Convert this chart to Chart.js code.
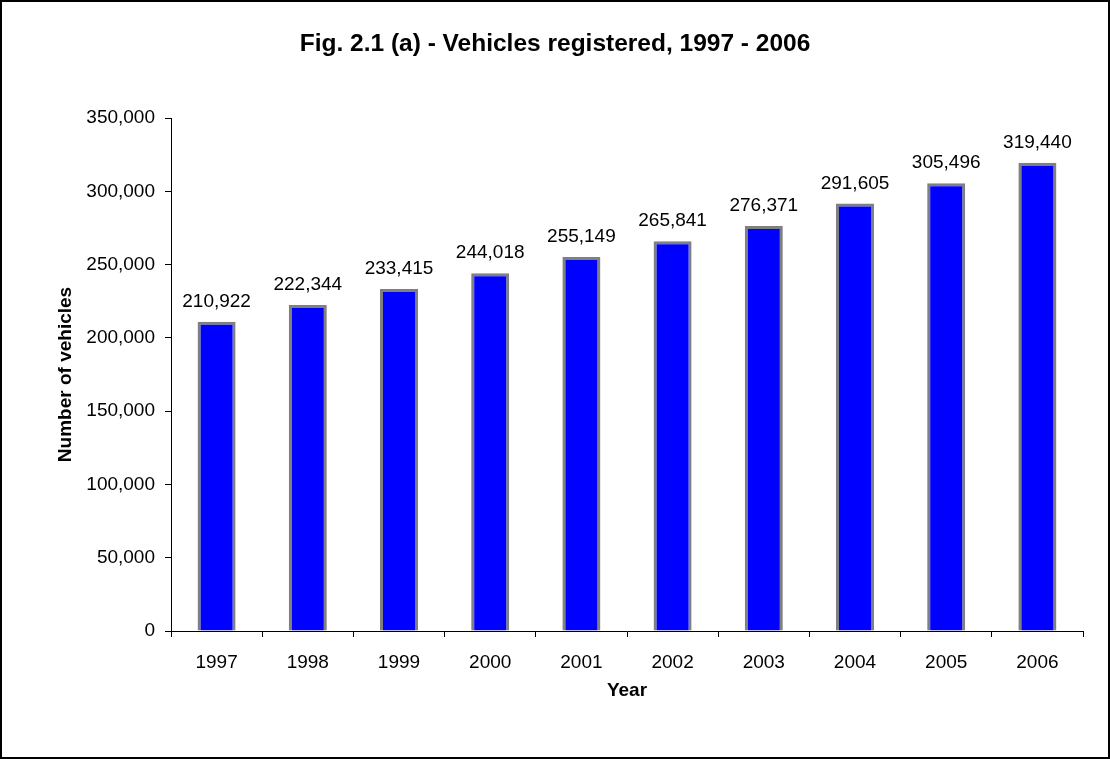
<!DOCTYPE html>
<html>
<head>
<meta charset="utf-8">
<title>Vehicles registered, 1997 - 2006</title>
<script src="https://cdn.jsdelivr.net/npm/chart.js@4.4.1/dist/chart.umd.min.js"></script>
<style>
    html, body { margin: 0; padding: 0; background: #fff; }
    #wrap { width: 1110px; height: 759px; position: relative; }
</style>
</head>
<body>
<div id="wrap"><canvas id="grafico"></canvas></div>
<script>
// Dados do gráfico
const anos = ['1997', '1998', '1999', '2000', '2001', '2002', '2003', '2004', '2005', '2006'];
const veiculos = [210922, 222344, 233415, 244018, 255149, 265841, 276371, 291605, 305496, 319440];
const yTicks = [0, 50000, 100000, 150000, 200000, 250000, 300000, 350000];

const fonte = '"Liberation Sans", Arial, sans-serif';

// Moldura preta e fundo branco
const moldura = {
    id: 'moldura',
    beforeDraw(chart) {
        const ctx = chart.ctx;
        ctx.save();
        ctx.fillStyle = '#fff';
        ctx.fillRect(0, 0, chart.width, chart.height);
        ctx.restore();
    },
    afterDraw(chart) {
        const ctx = chart.ctx;
        ctx.save();
        ctx.strokeStyle = '#000';
        ctx.lineWidth = 2;
        ctx.strokeRect(1, 1, chart.width - 2, chart.height - 2);
        ctx.restore();
    }
};

// Rótulos em cima das barras
const rotulos = {
    id: 'rotulos',
    afterDatasetsDraw(chart) {
        const ctx = chart.ctx;
        const meta = chart.getDatasetMeta(0);
        ctx.save();
        ctx.font = '19px ' + fonte;
        ctx.fillStyle = '#000';
        ctx.textAlign = 'center';
        ctx.textBaseline = 'alphabetic';
        meta.data.forEach((bar, i) => {
            ctx.fillText(veiculos[i].toLocaleString('en-US'), bar.x, bar.y - 15);
        });
        ctx.restore();
    }
};

const ctx = document.getElementById('grafico').getContext('2d');
new Chart(ctx, {
    type: 'bar',
    data: {
        labels: anos,
        datasets: [{
            label: 'Vehicles',
            data: veiculos,
            backgroundColor: '#0000FF',
            borderColor: '#808080',
            borderWidth: 3,
            barPercentage: 0.417,
            categoryPercentage: 1
        }]
    },
    options: {
        responsive: true,
        maintainAspectRatio: false,
        animation: false,
        layout: {
            padding: { left: 27, right: 27, top: 0, bottom: 0 }
        },
        plugins: {
            legend: { display: false },
            tooltip: { enabled: false },
            title: {
                display: true,
                text: 'Fig. 2.1 (a) - Vehicles registered, 1997 - 2006',
                color: '#000',
                font: { family: fonte, size: 24.5, weight: 'bold' },
                padding: { top: 30, bottom: 58.6 }
            }
        },
        scales: {
            x: {
                afterFit(scale) { scale.height = 128; },
                grid: {
                    display: true,
                    drawOnChartArea: false,
                    drawTicks: true,
                    tickLength: 6,
                    color: '#000',
                    offset: true
                },
                border: { display: true, color: '#000', width: 1 },
                ticks: {
                    color: '#000',
                    font: { family: fonte, size: 19 },
                    padding: 14,
                    maxRotation: 0
                },
                title: {
                    display: true,
                    text: 'Year',
                    color: '#000',
                    font: { family: fonte, size: 19, weight: 'bold' },
                    padding: { top: 0, bottom: 57 }
                }
            },
            y: {
                min: 0,
                max: 350000,
                afterFit(scale) { scale.width = 144; },
                afterBuildTicks(scale) {
                    scale.ticks = yTicks.map(v => ({ value: v }));
                },
                grid: {
                    display: true,
                    drawOnChartArea: false,
                    drawTicks: true,
                    tickLength: 6,
                    color: '#000'
                },
                border: { display: true, color: '#000', width: 1 },
                ticks: {
                    color: '#000',
                    font: { family: fonte, size: 19 },
                    padding: 10,
                    callback: function(value) {
                        return value.toLocaleString('en-US');
                    }
                },
                title: {
                    display: true,
                    text: 'Number of vehicles',
                    color: '#000',
                    font: { family: fonte, size: 19, weight: 'bold' },
                    padding: { top: 27, bottom: 0 }
                }
            }
        }
    },
    plugins: [moldura, rotulos]
});
</script>
</body>
</html>
